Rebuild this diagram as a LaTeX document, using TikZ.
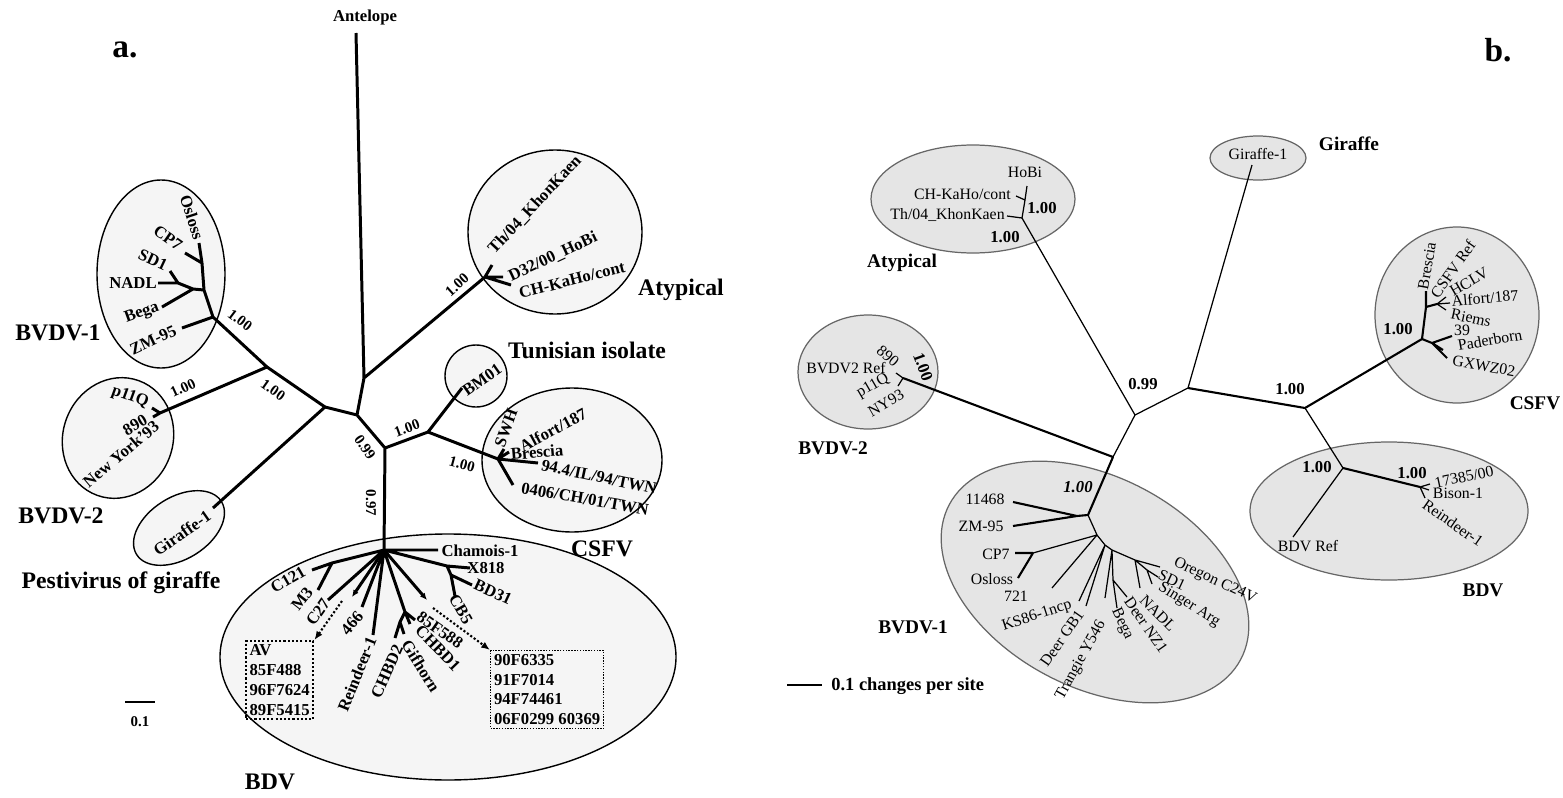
\documentclass[tikz,border=0pt]{standalone}
\usepackage{fontspec}
\setmainfont{Liberation Serif}
\usetikzlibrary{arrows.meta}

\tikzstyle{branch} = [line width=1.7pt]
\tikzstyle{clada} = [draw=black, line width=0.8pt, fill=black!4]
\tikzstyle{tipa} = [inner sep=0pt, font=\fontsize{9.5}{11.3}\selectfont\bfseries]
\tikzstyle{boota} = [inner sep=0pt, font=\fontsize{8.5}{9}\selectfont\bfseries]
\tikzstyle{groupa} = [inner sep=0pt, font=\fontsize{13.5}{15}\selectfont\bfseries]
\tikzstyle{pointer} = [-{Latex[length=4pt,width=3.5pt]}]
\tikzstyle{hidden} = [line width=1.2pt, dash pattern=on 1.2pt off 1.2pt, -{Latex[length=5pt,width=4pt]}]
\tikzstyle{twig} = [line width=0.7pt]
\tikzstyle{limb} = [line width=1.2pt]
\tikzstyle{cladb} = [draw=black!60, line width=0.7pt, fill=black!10]
\tikzstyle{tipb} = [inner sep=0pt, font=\fontsize{9}{10}\selectfont]
\tikzstyle{bootb} = [inner sep=0pt, font=\fontsize{9.5}{10}\selectfont\bfseries]
\tikzstyle{groupb} = [inner sep=0pt, font=\fontsize{11}{12}\selectfont\bfseries]
\tikzstyle{panel} = [inner sep=0pt, font=\fontsize{19}{20}\selectfont\bfseries]

\begin{document}
\begin{tikzpicture}[x=0.02cm, y=-0.02cm]
    \useasboundingbox[fill=white] (0,0) rectangle (1563,798);

    % ---------------- panel a ----------------
    \node[panel] (pa) at (125,50) {a.};

    % clade ellipses
    \draw[clada] (161,274) ellipse [x radius=64, y radius=94];
    \draw[clada, rotate around={-20:(118,438)}] (118,438) ellipse [x radius=55, y radius=61];
    \draw[clada, rotate around={32:(179,528)}] (179,528) ellipse [x radius=50, y radius=31];
    \draw[clada] (555,232) ellipse [x radius=87, y radius=82];
    \draw[clada] (476,376) circle [radius=31];
    \draw[clada] (572,460) ellipse [x radius=90, y radius=72];
    \draw[clada] (448,657) ellipse [x radius=228, y radius=123];

    % backbone
    \coordinate (aAnt) at (356,33);
    \coordinate (aN1) at (364,378);
    \coordinate (aN2) at (357,415);
    \coordinate (aN3) at (385,448);
    \coordinate (aBV) at (325,407);
    \coordinate (aBV12) at (267,367);
    \coordinate (aAty) at (485,277);
    \coordinate (aTun) at (428,432);
    \coordinate (aBdv) at (384,550);
    \draw[branch] (aN1) -- (aAnt) (aN1) -- (aAty) (aN1) -- (aN2) -- (aBV) (aN2) -- (aN3) -- (aTun) (aN3) -- (aBdv);

    % BVDV-1 and BVDV-2
    \coordinate (aB1) at (213,317);
    \coordinate (aB1a) at (204,290);
    \coordinate (aB1b) at (202,263);
    \coordinate (aB1c) at (193,289);
    \coordinate (aB1d) at (178,283);
    \coordinate (tOsloss) at (199,243);
    \coordinate (tCP7) at (185,253);
    \coordinate (tSD1) at (170,271);
    \coordinate (tNADL) at (158,283);
    \coordinate (tBega) at (162,307);
    \coordinate (tZM) at (182,328);
    \coordinate (aB2) at (160,413);
    \coordinate (tP11Q) at (152,408);
    \coordinate (tNY) at (153,417);
    \coordinate (tGirA) at (213,508);
    \draw[branch] (aBV) -- (aBV12) -- (aB1) -- (aB1a) -- (aB1b) -- (tOsloss) (aB1b) -- (tCP7)
        (aB1a) -- (aB1c) -- (aB1d) -- (tNADL) (aB1d) -- (tSD1) (aB1c) -- (tBega) (aB1) -- (tZM)
        (aBV12) -- (aB2) -- (tP11Q) (aB2) -- (tNY) (aBV) -- (tGirA);

    % Atypical, Tunisian isolate, CSFV
    \coordinate (tTh) at (492,265);
    \coordinate (tD32) at (503,277);
    \coordinate (tKaHo) at (511,285);
    \coordinate (tBM) at (462,388);
    \coordinate (aCs) at (498,459);
    \coordinate (tSWH) at (504,449);
    \coordinate (tAlf) at (509,452);
    \coordinate (tTW94) at (538,463);
    \coordinate (tTW06) at (513,485);
    \draw[branch] (aAty) -- (tTh) (aAty) -- (tD32) (aAty) -- (tKaHo)
        (aTun) -- (tBM) (aTun) -- (aCs) -- (tSWH) (aCs) -- (tAlf) (aCs) -- (tTW94) (aCs) -- (tTW06);

    % BDV
    \coordinate (tCham) at (438,550);
    \coordinate (aXb) at (447,566);
    \coordinate (tX818) at (470,568);
    \coordinate (aXc) at (451,575);
    \coordinate (tBD31) at (472,585);
    \coordinate (tCB5) at (455,596);
    \coordinate (tG90) at (427,600);
    \coordinate (aGf) at (405,612);
    \coordinate (tF588) at (415,620);
    \coordinate (tCHBD1) at (410,624);
    \coordinate (aGh) at (400,622);
    \coordinate (tCHBD2) at (395,638);
    \coordinate (tGif) at (404,634);
    \coordinate (tReind) at (373,635);
    \coordinate (t466) at (362,607);
    \coordinate (tAV) at (352,597);
    \coordinate (tC27) at (328,600);
    \coordinate (aCm) at (332,563);
    \coordinate (tC121) at (312,570);
    \coordinate (tM3) at (318,590);
    \draw[branch] (aBdv) -- (tCham) (aBdv) -- (aXb) -- (tX818) (aXb) -- (aXc) -- (tBD31) (aXc) -- (tCB5)
        (aBdv) -- (aGf) -- (tF588) (aGf) -- (tCHBD1) (aGf) -- (aGh) -- (tCHBD2) (aGh) -- (tGif)
        (aBdv) -- (tReind) (aBdv) -- (t466) (aBdv) -- (tC27) (aBdv) -- (aCm) -- (tC121) (aCm) -- (tM3);
    \draw[branch, pointer] (aBdv) -- (tG90);
    \draw[branch, pointer] (aBdv) -- (tAV);

    % hidden isolates
    \node[tipa, align=left, anchor=north west, draw, line width=1.2pt, dash pattern=on 1.2pt off 1.2pt, inner sep=2pt] (avBox) at (245,640) {AV\\85F488\\96F7624\\89F5415};
    \node[tipa, align=left, anchor=north west, draw, line width=0.6pt, dash pattern=on 0.8pt off 0.8pt, inner sep=2pt] (fBox) at (490,650) {90F6335\\91F7014\\94F74461\\06F0299 60369};
    \coordinate (sAV) at (342,601);
    \coordinate (sG90) at (433,608);
    \draw[hidden] (sAV) -- (avBox.north east);
    \draw[hidden] (sG90) -- (fBox.north west);

    % tip labels
    \node[boota, font=\fontsize{9.5}{10}\selectfont\bfseries] (lAnt) at (365,17) {Antelope};
    \node[tipa, rotate=-72] (lOsloss) at (192,217) {Osloss};
    \node[tipa, rotate=-35] (lCP7) at (168,238) {CP7};
    \node[tipa, rotate=-25] (lSD1) at (153,260) {SD1};
    \node[tipa] (lNADL) at (133,283) {NADL};
    \node[tipa, rotate=20] (lBega) at (142,313) {Bega};
    \node[tipa, rotate=25] (lZM) at (153,340) {ZM-95};
    \node[tipa, rotate=-20] (lP11Q) at (130,397) {p11Q};
    \node[tipa, rotate=30] (l890) at (135,425) {890};
    \node[tipa, rotate=40] (lNY) at (121,454) {New York'93};
    \node[tipa, rotate=35] (lGirA) at (182,533) {Giraffe-1};
    \node[tipa, rotate=47] (lTh) at (535,205) {Th/04\_KhonKaen};
    \node[tipa, rotate=25] (lD32) at (553,257) {D32/00\_HoBi};
    \node[tipa, rotate=14] (lKaHo) at (572,280) {CH-KaHo/cont};
    \node[tipa, rotate=35] (lBM) at (482,380) {BM01};
    \node[tipa, rotate=70] (lSWH) at (506,428) {SWH};
    \node[tipa, rotate=28] (lAlf) at (553,430) {Alfort/187};
    \node[tipa, rotate=5] (lBres) at (537,452) {Brescia};
    \node[tipa, rotate=-12] (lTW94) at (599,477) {94.4/IL/94/TWN};
    \node[tipa, rotate=-10] (lTW06) at (585,499) {0406/CH/01/TWN};
    \node[tipa] (lCham) at (480,551) {Chamois-1};
    \node[tipa] (lX818) at (486,568) {X818};
    \node[tipa, rotate=-25] (lBD31) at (493,592) {BD31};
    \node[tipa, rotate=-60] (lCB5) at (461,609) {CB5};
    \node[tipa, rotate=-35] (lF588) at (440,630) {85F588};
    \node[tipa, rotate=-46] (lCHBD1) at (438,648) {CHBD1};
    \node[tipa, rotate=-58] (lGif) at (421,666) {Gifhorn};
    \node[tipa, rotate=66] (lCHBD2) at (387,671) {CHBD2};
    \node[tipa, rotate=68] (lReind) at (357,674) {Reindeer-1};
    \node[tipa, rotate=50] (l466) at (352,623) {466};
    \node[tipa, rotate=55] (lC27) at (318,612) {C27};
    \node[tipa, rotate=52] (lM3) at (302,599) {M3};
    \node[tipa, rotate=30] (lC121) at (288,580) {C121};

    % support values
    \node[boota, rotate=-37] (sA1) at (240,320) {1.00};
    \node[boota, rotate=25] (sA2) at (183,388) {1.00};
    \node[boota, rotate=-35] (sA3) at (273,390) {1.00};
    \node[boota, rotate=42] (sA4) at (457,285) {1.00};
    \node[boota, rotate=20] (sA5) at (407,428) {1.00};
    \node[boota, rotate=-15] (sA6) at (462,464) {1.00};
    \node[boota, rotate=-55] (sA7) at (365,447) {0.99};
    \node[boota, rotate=-90] (sA8) at (371,503) {0.97};

    % group names
    \node[groupa] (gA1) at (58,333) {BVDV-1};
    \node[groupa] (gA2) at (61,516) {BVDV-2};
    \node[groupa] (gA3) at (121,583) {Pestivirus of giraffe};
    \node[groupa] (gA4) at (681,290) {Atypical};
    \node[groupa] (gA5) at (587,350) {Tunisian isolate};
    \node[groupa] (gA6) at (602,549) {CSFV};
    \node[groupa] (gA7) at (270,782) {BDV};

    % scale bar
    \coordinate (aSc1) at (125,702);
    \coordinate (aSc2) at (155,702);
    \draw[line width=1.3pt] (aSc1) -- (aSc2);
    \node[boota] (lScA) at (140,722) {0.1};

    % ---------------- panel b ----------------
    \node[panel] (pb) at (1498,50) {b.};

    % clade ellipses
    \draw[cladb] (973,199) ellipse [x radius=102, y radius=54];
    \draw[cladb] (868,372) ellipse [x radius=70, y radius=57];
    \draw[cladb] (1258,158) ellipse [x radius=48, y radius=22];
    \draw[cladb] (1457,315) ellipse [x radius=82, y radius=88];
    \draw[cladb] (1389,511) ellipse [x radius=139, y radius=69];
    \draw[cladb, rotate around={-28:(1095,582)}] (1095,582) ellipse [x radius=165, y radius=105];

    % backbone
    \coordinate (bAty) at (1022,218);
    \coordinate (bN0) at (1135,415);
    \coordinate (bN1) at (1188,388);
    \coordinate (bN2) at (1305,408);
    \coordinate (bGir) at (1252,165);
    \coordinate (bCs) at (1422,339);
    \coordinate (bBd) at (1343,468);
    \coordinate (bStem) at (1113,457);
    \coordinate (bB1) at (1088,515);
    \coordinate (bB2) at (903,378);
    \coordinate (bBdRef) at (1293,537);
    \draw[twig] (bAty) -- (bN0) -- (bN1) -- (bGir) (bN0) -- (bStem) (bN2) -- (bBd) (bBd) -- (bBdRef);
    \draw[limb] (bN1) -- (bN2) -- (bCs) (bStem) -- (bB2) (bStem) -- (bB1);

    % Atypical
    \coordinate (bHoBi) at (1027,186);
    \coordinate (bKn) at (1025,200);
    \coordinate (bKaHo) at (1016,196);
    \coordinate (bTh) at (1007,216);
    \draw[twig] (bAty) -- (bKn) -- (bHoBi) (bKn) -- (bKaHo) (bAty) -- (bTh);

    % BVDV-2
    \coordinate (bP11Q) at (896,373);
    \coordinate (bNY) at (898,386);
    \draw[twig] (bB2) -- (bP11Q) (bB2) -- (bNY);

    % CSFV
    \coordinate (bCs1) at (1426,307);
    \coordinate (bBres) at (1426,291);
    \coordinate (bCs2) at (1437,304);
    \coordinate (bCRef) at (1446,297);
    \coordinate (bHCLV) at (1450,303);
    \coordinate (bRiems) at (1446,310);
    \coordinate (bCs3) at (1432,343);
    \coordinate (b39) at (1452,336);
    \coordinate (bPad) at (1443,350);
    \coordinate (bGX) at (1447,358);
    \draw[limb] (bCs) -- (bCs1) -- (bBres) (bCs1) -- (bCs2) (bCs) -- (bCs3) -- (b39) (bCs3) -- (bPad) (bCs3) -- (bGX);
    \draw[twig] (bCs2) -- (bCRef) (bCs2) -- (bHCLV) (bCs2) -- (bRiems);

    % BDV
    \coordinate (bBd1) at (1420,487);
    \coordinate (b17385) at (1430,484);
    \coordinate (bBison) at (1429,490);
    \coordinate (bRein) at (1425,498);
    \draw[limb] (bBd) -- (bBd1);
    \draw[twig] (bBd1) -- (b17385) (bBd1) -- (bBison) (bBd1) -- (bRein);

    % BVDV-1
    \coordinate (bE1) at (1077,516);
    \coordinate (b11468) at (1013,502);
    \coordinate (bZM) at (1013,526);
    \coordinate (bS) at (1097,535);
    \coordinate (bCPn) at (1033,553);
    \coordinate (bCP7) at (1015,553);
    \coordinate (bOsl) at (1018,578);
    \coordinate (b721) at (1052,588);
    \coordinate (bT) at (1105,545);
    \coordinate (bKS) at (1079,601);
    \coordinate (bDGB) at (1086,606);
    \coordinate (bU) at (1112,550);
    \coordinate (bTrang) at (1105,598);
    \coordinate (bV) at (1113,580);
    \coordinate (bBega) at (1117,608);
    \coordinate (bNZ) at (1127,597);
    \coordinate (bW) at (1135,560);
    \coordinate (bNADL) at (1140,588);
    \coordinate (bX2) at (1147,570);
    \coordinate (bSinger) at (1152,584);
    \coordinate (bSD1) at (1158,577);
    \coordinate (bOreg) at (1160,567);
    \draw[limb] (bB1) -- (bE1) -- (b11468) (bE1) -- (bZM) (bCPn) -- (bCP7) (bCPn) -- (bOsl);
    \draw[twig] (bB1) -- (bS) -- (bCPn) (bS) -- (b721) (bS) -- (bT) -- (bKS) (bT) -- (bDGB) (bT) -- (bU) -- (bTrang)
        (bU) -- (bV) -- (bBega) (bV) -- (bNZ) (bU) -- (bW) -- (bNADL) (bW) -- (bX2) -- (bSinger) (bX2) -- (bSD1) (bW) -- (bOreg);

    % tip labels
    \node[tipb] (mHoBi) at (1025,172) {HoBi};
    \node[tipb, anchor=east] (mKaHo) at (1011,194) {CH-KaHo/cont};
    \node[tipb, anchor=east] (mTh) at (1005,215) {Th/04\_KhonKaen};
    \node[tipb] (mGir) at (1258,154) {Giraffe-1};
    \node[tipb] (mB2Ref) at (846,368) {BVDV2 Ref};
    \node[tipb, rotate=-40] (m890) at (888,356) {890};
    \node[tipb, rotate=30] (mP11Q) at (873,386) {p11Q};
    \node[tipb, rotate=30] (mNY) at (886,403) {NY93};
    \node[tipb, rotate=80] (mBres) at (1427,266) {Brescia};
    \node[tipb, rotate=55] (mCRef) at (1453,269) {CSFV Ref};
    \node[tipb, rotate=30] (mHCLV) at (1469,282) {HCLV};
    \node[tipb, rotate=5] (mAlf) at (1485,298) {Alfort/187};
    \node[tipb, rotate=-12] (mRiems) at (1471,318) {Riems};
    \node[tipb] (m39) at (1462,330) {39};
    \node[tipb, rotate=10] (mPad) at (1490,340) {Paderborn};
    \node[tipb, rotate=-10] (mGX) at (1484,366) {GXWZ02};
    \node[tipb] (mBdRef) at (1308,546) {BDV Ref};
    \node[tipb, rotate=12] (m17385) at (1464,477) {17385/00};
    \node[tipb] (mBison) at (1458,493) {Bison-1};
    \node[tipb, rotate=-35] (mRein) at (1453,523) {Reindeer-1};
    \node[tipb] (m11468) at (985,499) {11468};
    \node[tipb] (mZM) at (981,526) {ZM-95};
    \node[tipb] (mCP7) at (996,554) {CP7};
    \node[tipb] (mOsl) at (992,579) {Osloss};
    \node[tipb] (m721) at (1016,596) {721};
    \node[tipb, rotate=18] (mKS) at (1037,616) {KS86-1ncp};
    \node[tipb, rotate=55] (mDGB) at (1062,638) {Deer GB1};
    \node[tipb, rotate=61] (mTrang) at (1081,660) {Trangie Y546};
    \node[tipb, rotate=-65] (mBega) at (1122,624) {Bega};
    \node[tipb, rotate=-55] (mNZ) at (1146,625) {Deer NZ1};
    \node[tipb, rotate=-45] (mNADL) at (1158,613) {NADL};
    \node[tipb, rotate=-32] (mSinger) at (1189,605) {Singer Arg};
    \node[tipb, rotate=-25] (mSD1) at (1172,580) {SD1};
    \node[tipb, rotate=-25] (mOreg) at (1215,581) {Oregon C24V};

    % support values
    \node[bootb] (sB1) at (1042,208) {1.00};
    \node[bootb] (sB2) at (1005,237) {1.00};
    \node[bootb] (sB3) at (1143,384) {0.99};
    \node[bootb, rotate=-70] (sB4) at (923,367) {1.00};
    \node[bootb] (sB5) at (1290,389) {1.00};
    \node[bootb] (sB6) at (1398,329) {1.00};
    \node[bootb] (sB7) at (1317,467) {1.00};
    \node[bootb] (sB8) at (1412,473) {1.00};
    \node[bootb, font=\fontsize{9.5}{10}\selectfont\bfseries\itshape] (sB9) at (1078,487) {1.00};

    % group names
    \node[groupb] (gB1) at (902,263) {Atypical};
    \node[groupb] (gB2) at (1349,144) {Giraffe};
    \node[groupb] (gB3) at (833,448) {BVDV-2};
    \node[groupb] (gB4) at (1535,403) {CSFV};
    \node[groupb] (gB5) at (1483,590) {BDV};
    \node[groupb] (gB6) at (913,627) {BVDV-1};

    % scale bar
    \coordinate (bSc1) at (787,685);
    \coordinate (bSc2) at (822,685);
    \draw[twig] (bSc1) -- (bSc2);
    \node[bootb, font=\fontsize{10.5}{11}\selectfont\bfseries, anchor=west] (lScB) at (831,686) {0.1 changes per site};
\end{tikzpicture}
\end{document}
